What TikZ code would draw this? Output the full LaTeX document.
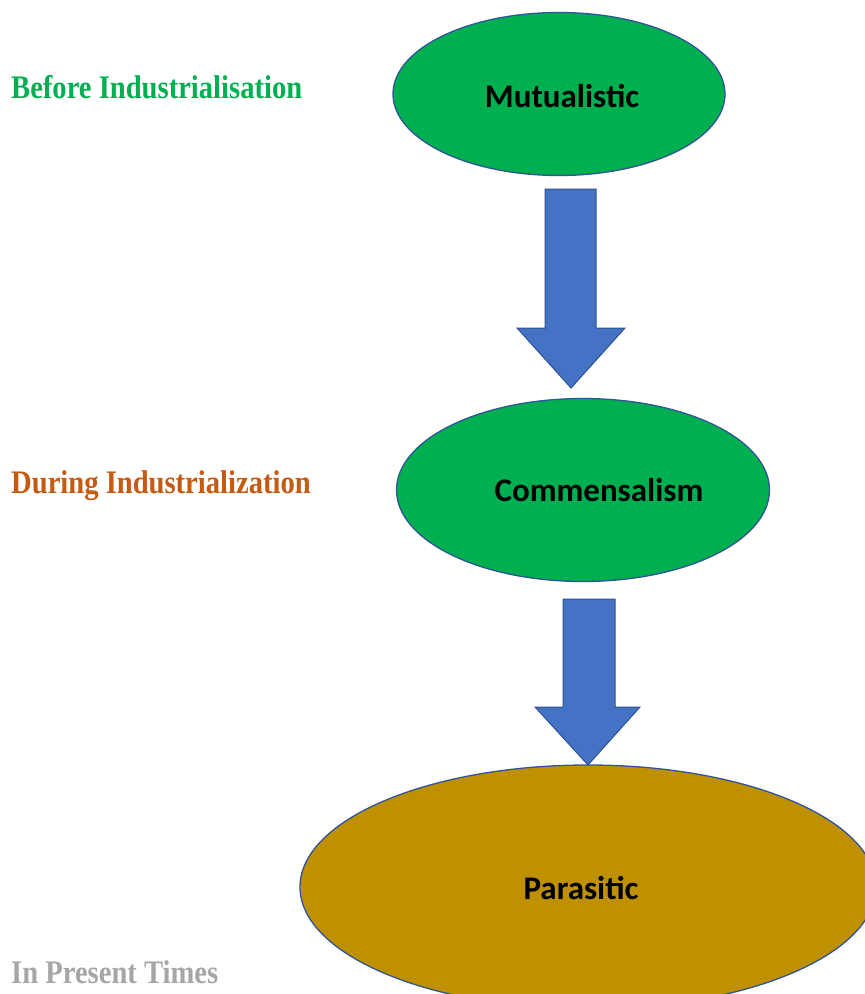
\documentclass[tikz,border=0pt]{standalone}
\usepackage{fontspec}
\setmainfont{Liberation Serif}
\newfontfamily\carl{Carlito}
\usetikzlibrary{shapes.geometric}
\definecolor{ellgreen}{HTML}{00B050}
\definecolor{ellgold}{HTML}{BF9000}
\definecolor{ellline}{HTML}{2F5597}
\definecolor{arrfill}{HTML}{4472C4}
\definecolor{arrline}{HTML}{2F528F}
\definecolor{lblgreen}{HTML}{00B050}
\definecolor{lblorange}{HTML}{C55A11}
\definecolor{lblgray}{HTML}{A6A6A6}
\tikzset{
  stage/.style={ellipse, draw=ellline, line width=1.3pt, inner sep=0pt},
  stagetext/.style={font=\carl\bfseries\fontsize{33}{36}\selectfont, text=black},
  blockarrow/.style={fill=arrfill, draw=arrline, line width=1pt, line join=miter},
  era/.style={anchor=base west, inner sep=0pt}
}
\newcommand{\eralabel}[1]{\scalebox{1}[1.15]{\bfseries\fontsize{28.6}{30}\selectfont #1}}
\begin{document}
\begin{tikzpicture}[x=1pt,y=-1pt]
\useasboundingbox (0,0) rectangle (865,994);
% ellipses
\node[stage, fill=ellgreen, minimum width=332, minimum height=163] (mut) at (559,94) {};
\node[stagetext] (mutt) at (562,96) {Mutualistic};
\node[stage, fill=ellgreen, minimum width=373, minimum height=183] (com) at (583,490) {};
\node[stagetext] (comt) at (599,490) {Commensalism};
\node[stage, fill=ellgold, minimum width=576, minimum height=244] (par) at (588,887) {};
\node[stagetext] (part) at (581,888) {Parasitic};
% block arrows
\draw[blockarrow] (545,189) -- (596,189) -- (596,328) -- (625,328) -- (571,388)
  -- (517,328) -- (545,328) -- cycle;
\draw[blockarrow] (563,599) -- (615,599) -- (615,707) -- (640,707) -- (588,765)
  -- (535,707) -- (563,707) -- cycle;
% era labels
\node[era, text=lblgreen] (before) at (11,98) {\eralabel{Before Industrialisation}};
\node[era, text=lblorange] (during) at (11,493) {\eralabel{During Industrialization}};
\node[era, text=lblgray] (present) at (11,983) {\eralabel{In Present Times}};
\end{tikzpicture}
\end{document}
